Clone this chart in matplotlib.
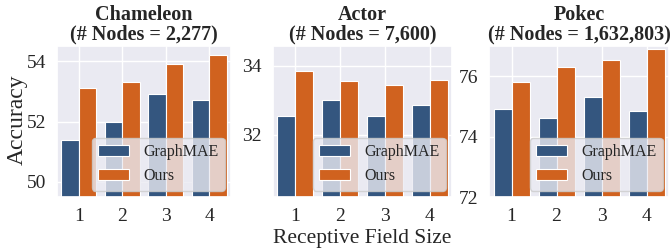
import matplotlib
matplotlib.use("Agg")
import matplotlib.pyplot as plt
import numpy as np
import seaborn as sns

# data
field_sizes = [1, 2, 3, 4]
datasets = ["Chameleon", "Actor", "Pokec"]
n_nodes = ["2,277", "7,600", "1,632,803"]
graphmae = {
    "Chameleon": [51.4, 52.0, 52.9, 52.7],
    "Actor": [32.55, 33.0, 32.55, 32.87],
    "Pokec": [74.9, 74.6, 75.3, 74.85],
}
ours = {
    "Chameleon": [53.1, 53.3, 53.9, 54.2],
    "Actor": [33.85, 33.56, 33.45, 33.6],
    "Pokec": [75.8, 76.3, 76.53, 76.9],
}
ylims = {"Chameleon": (49.5, 54.5), "Actor": (30.2, 34.57), "Pokec": (72, 77)}
yticks = {"Chameleon": [50, 52, 54], "Actor": [32, 34], "Pokec": [72, 74, 76]}

sns.set_theme(style="darkgrid")
plt.rcParams["font.family"] = ["Liberation Serif", "DejaVu Serif"]

BLUE = "#34567f"
ORANGE = "#d0621f"

W, H = 671, 248
fig = plt.figure(figsize=(W / 100, H / 100), dpi=100)
lefts = [57, 273, 489]
rights = [231, 452, 669]
top, bottom = 46, 197

x = np.arange(len(field_sizes))
bw = 0.4
for i, name in enumerate(datasets):
    ax = fig.add_axes([lefts[i] / W, (H - bottom) / H,
                       (rights[i] - lefts[i]) / W, (bottom - top) / H])
    ax.bar(x - bw / 2, graphmae[name], bw, color=BLUE, edgecolor="white",
           linewidth=0.8, label="GraphMAE")
    ax.bar(x + bw / 2, ours[name], bw, color=ORANGE, edgecolor="white",
           linewidth=0.8, label="Ours")
    ax.set_xlim(-0.5, 3.5)
    ax.set_ylim(*ylims[name])
    ax.set_yticks(yticks[name])
    ax.set_xticks(x)
    ax.set_xticklabels([str(v) for v in field_sizes])
    ax.tick_params(labelsize=14, pad=2)
    ax.set_title(f"{name}\n(# Nodes = {n_nodes[i]})", fontsize=14.5,
                 fontweight="bold", pad=5, linespacing=0.95)
    ax.legend(loc="lower right", fontsize=11.5, handlelength=1.9,
              handletextpad=0.9, borderaxespad=0.4, framealpha=0.8)

fig.text(17 / W, 1 - 120 / H, "Accuracy", rotation=90, ha="center",
         va="center", fontsize=17)
fig.text(0.54, 4.5 / H, "Receptive Field Size", ha="center", va="baseline",
         fontsize=15.5)

fig.savefig("out.png", dpi=100)
